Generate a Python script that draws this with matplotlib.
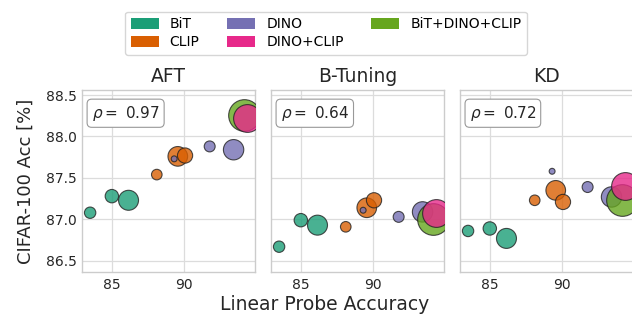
import matplotlib
matplotlib.use("Agg")
import matplotlib.pyplot as plt
from matplotlib.patches import Patch

plt.rcParams['font.family'] = ['DejaVu Sans']

panels = ["AFT", "B-Tuning", "KD"]
rhos = ["0.97", "0.64", "0.72"]
groups = ["BiT", "CLIP", "DINO", "DINO+CLIP", "BiT+DINO+CLIP"]
colors = {"BiT": "#1b9e77", "CLIP": "#d95f02", "DINO": "#7570b3",
          "DINO+CLIP": "#e7298a", "BiT+DINO+CLIP": "#66a61e"}

# linear probe accuracy (x) per model
bit_x = [83.5, 85.0, 86.15]
clip_x = [88.1, 89.55, 90.05]
dino_x = [89.3, 91.75, 93.4]
combo3_x = [94.1]
dinoclip_x = [94.3]

# marker sizes (model size)
bit_s = [67, 93, 207]
clip_s = [58, 200, 120]
dino_s = [18, 62, 215]
combo3_s = [520]
dinoclip_s = [400]

# CIFAR-100 accuracy per panel
bit_y = {"AFT": [87.08, 87.28, 87.23], "B-Tuning": [86.67, 86.99, 86.93], "KD": [86.86, 86.89, 86.77]}
clip_y = {"AFT": [87.54, 87.76, 87.77], "B-Tuning": [86.91, 87.14, 87.23], "KD": [87.23, 87.35, 87.21]}
dino_y = {"AFT": [87.73, 87.88, 87.84], "B-Tuning": [87.11, 87.03, 87.09], "KD": [87.58, 87.39, 87.27]}
combo3_y = {"AFT": [88.26], "B-Tuning": [87.00], "KD": [87.23]}
dinoclip_y = {"AFT": [88.22], "B-Tuning": [87.08], "KD": [87.40]}

series = [("BiT", bit_x, bit_s, bit_y), ("CLIP", clip_x, clip_s, clip_y),
          ("DINO", dino_x, dino_s, dino_y), ("BiT+DINO+CLIP", combo3_x, combo3_s, combo3_y),
          ("DINO+CLIP", dinoclip_x, dinoclip_s, dinoclip_y)]

fig = plt.figure(figsize=(6.32, 3.16), dpi=100)
lefts = [0.130, 0.429, 0.728]
w, bottom, h = 0.274, 0.138, 0.577
axes = []
for i, name in enumerate(panels):
    ax = fig.add_axes([lefts[i], bottom, w, h])
    axes.append(ax)
    ax.set_axisbelow(True)
    ax.grid(True, color="#dcdcdc", linewidth=0.9)
    for sp in ax.spines.values():
        sp.set_color("#cccccc")
        sp.set_linewidth(1.0)
    for g, xs, ss, ys in series:
        ax.scatter(xs, ys[name], s=ss, c=colors[g], alpha=0.8,
                   edgecolors="#222222", linewidths=0.8, zorder=3)
    ax.set_xlim(82.95, 94.9)
    ax.set_ylim(86.36, 88.56)
    ax.set_xticks([85, 90])
    ax.set_yticks([86.5, 87.0, 87.5, 88.0, 88.5])
    ax.tick_params(axis="both", labelsize=10, length=0, colors="#262626", pad=4)
    if i > 0:
        ax.set_yticklabels([])
    ax.set_title(name, fontsize=13.5, color="#262626", pad=6)
    ax.text(0.055, 0.925, r"$\rho = $ " + rhos[i], transform=ax.transAxes,
            ha="left", va="top", fontsize=11, color="#262626",
            bbox=dict(boxstyle="round,pad=0.3", facecolor="white",
                      edgecolor="#999999", linewidth=0.8), zorder=5)

axes[0].set_ylabel("CIFAR-100 Acc [%]", fontsize=13, color="#262626")
axes[0].yaxis.set_label_coords(-0.275, 0.5)
fig.text(0.513, 0.035, "Linear Probe Accuracy", ha="center", va="center",
         fontsize=13.5, color="#262626")

handles = [Patch(facecolor=colors[g], label=g) for g in groups]
fig.legend(handles=handles, loc="upper center", bbox_to_anchor=(0.516, 0.985),
           ncol=3, fontsize=10, frameon=True, edgecolor="#cccccc",
           handlelength=2.0, handleheight=0.8, columnspacing=2.0,
           borderpad=0.4, labelspacing=0.3, fancybox=True)

fig.savefig("out.png", dpi=100)
